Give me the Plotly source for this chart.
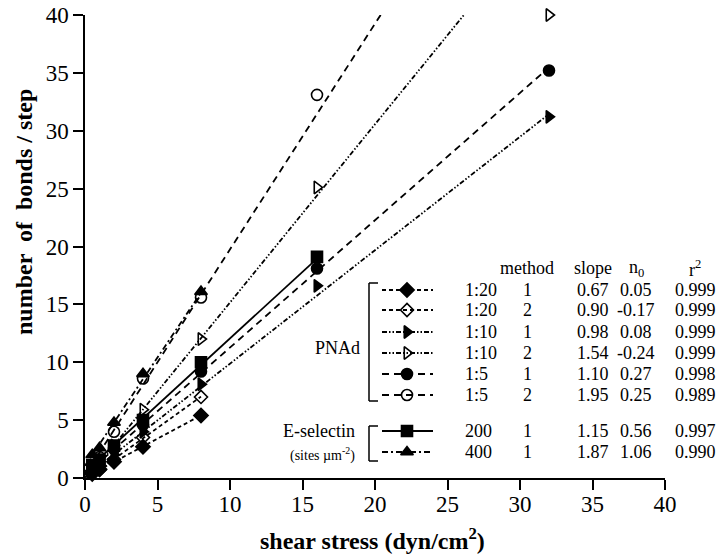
import plotly.graph_objects as go

# ---------------- data ----------------
series_names = ["1:20", "1:20", "1:10", "1:10", "1:5", "1:5", "200", "400"]
methods = ["1", "2", "1", "2", "1", "2", "1", "1"]
slopes = [0.67, 0.90, 0.98, 1.54, 1.10, 1.95, 1.15, 1.87]
n0s = [0.05, -0.17, 0.08, -0.24, 0.27, 0.25, 0.56, 1.06]
r2s = ["0.999", "0.999", "0.999", "0.999", "0.998", "0.989", "0.997", "0.990"]
slope_txt = ["0.67", "0.90", "0.98", "1.54", "1.10", "1.95", "1.15", "1.87"]
n0_txt = ["0.05", "-0.17", "0.08", "-0.24", "0.27", "0.25", "0.56", "1.06"]

x_d1 = [0.5, 1, 2, 4, 8]
y_d1 = [0.45, 0.75, 1.4, 2.7, 5.4]
x_d2 = [0.5, 1, 2, 4, 8]
y_d2 = [0.3, 0.7, 1.6, 3.5, 7.0]
x_t1 = [0.5, 1, 2, 4, 8, 16, 32]
y_t1 = [0.6, 1.1, 2.0, 4.0, 8.1, 16.6, 31.2]
x_t2 = [0.5, 1, 2, 4, 8, 16, 32]
y_t2 = [0.6, 1.2, 2.8, 5.9, 12.0, 25.1, 40.0]
x_c1 = [0.5, 1, 2, 4, 8, 16, 32]
y_c1 = [0.8, 1.4, 2.5, 4.6, 9.2, 18.1, 35.2]
x_c2 = [0.5, 1, 2, 4, 8, 16]
y_c2 = [1.0, 1.8, 4.0, 8.6, 15.6, 33.1]
x_s = [0.5, 1, 2, 4, 8, 16]
y_s = [1.1, 1.6, 2.8, 5.0, 10.0, 19.1]
x_u = [0.5, 1, 2, 4, 8]
y_u = [2.0, 2.6, 4.8, 9.0, 16.1]

xs = [x_d1, x_d2, x_t1, x_t2, x_c1, x_c2, x_s, x_u]
ys = [y_d1, y_d2, y_t1, y_t2, y_c1, y_c2, y_s, y_u]
fit_end = [8, 8, 32, 32, 32, 32, 16, 8]

x_ticks = [0, 5, 10, 15, 20, 25, 30, 35, 40]
y_ticks = [0, 5, 10, 15, 20, 25, 30, 35, 40]

# ---------------- styles ----------------
symbols = ["diamond", "diamond-open", "triangle-right", "triangle-right-open",
           "circle", "circle-open", "square", "triangle-up"]
msizes = [11, 10, 11, 11, 11, 11, 11, 11]
dashes = ["4px,3px", "4px,3px", "5px,2px,1.5px,2px,1.5px,2px", "5px,2px,1.5px,2px,1.5px,2px",
          "7px,5px", "7px,5px", "solid", "6px,3px,2px,3px"]
FONT = "Liberation Serif"

W, H = 720, 557
L, R, T, B = 85, 665, 15, 478   # plot box in page pixels

fig = go.Figure()

for i in range(8):
    fx = [0, fit_end[i]]
    fy = [n0s[i] + slopes[i] * v for v in fx]
    fig.add_trace(go.Scatter(x=fx, y=fy, mode="lines",
                             line=dict(color="black", width=1.8, dash=dashes[i]),
                             showlegend=False, hoverinfo="skip"))
for i in range(8):
    fig.add_trace(go.Scatter(x=xs[i], y=ys[i], mode="markers",
                             marker=dict(symbol=symbols[i], size=msizes[i], color="black",
                                         line=dict(color="black", width=1.6)),
                             showlegend=False, cliponaxis=False))

# ---------------- legend table ----------------
row_y = [290, 310, 332, 353, 374, 395, 431, 452]
samp_x0, samp_x1, samp_xm = 382, 433, 407
col1_x, col_meth, col_slope, col_n0, col_r2 = 463, 527, 593, 636, 695
header_y = 268

for i in range(8):
    fig.add_trace(go.Scatter(x=[samp_x0, samp_x1], y=[row_y[i], row_y[i]], mode="lines",
                             xaxis="x2", yaxis="y2",
                             line=dict(color="black", width=1.8, dash=dashes[i]),
                             showlegend=False, hoverinfo="skip", cliponaxis=False))
    fig.add_trace(go.Scatter(x=[samp_xm], y=[row_y[i]], mode="markers",
                             xaxis="x2", yaxis="y2",
                             marker=dict(symbol=symbols[i], size=msizes[i], color="black",
                                         line=dict(color="black", width=1.6)),
                             showlegend=False, hoverinfo="skip", cliponaxis=False))

def px(x):
    return (x - L) / (R - L)

def py(y):
    return (B - y) / (B - T)

ann = []
def txt(x, y, s, size=18, xanchor="center", bold=False, angle=0):
    ann.append(dict(x=px(x), y=py(y), xref="paper", yref="paper",
                    text=("<b>%s</b>" % s) if bold else s,
                    showarrow=False, xanchor=xanchor, yanchor="middle", textangle=angle,
                    font=dict(family=FONT, size=size, color="black")))

txt(col_meth, header_y, "method")
txt(col_slope, header_y, "slope")
txt(col_n0, header_y, "n<sub>0</sub>")
txt(col_r2, header_y, "r<sup>2</sup>")
for i in range(8):
    txt(col1_x, row_y[i], series_names[i], xanchor="left")
    txt(col_meth, row_y[i], methods[i])
    txt(col_slope, row_y[i], slope_txt[i])
    txt(col_n0, row_y[i], n0_txt[i])
    txt(col_r2, row_y[i], r2s[i])
txt(362, 348, "PNAd", xanchor="right")
txt(357, 431, "E-selectin", xanchor="right")
txt(357, 454, "(sites µm<sup>-2</sup>)", size=14, xanchor="right")

txt(372, 539, "shear stress (dyn/cm<sup>2</sup>)", size=24, bold=True)
txt(24, 212, "number  of  bonds / step", size=24, bold=True, angle=-90)

shapes = []
def seg(x0, y0, x1, y1):
    shapes.append(dict(type="line", xref="paper", yref="paper",
                       x0=px(x0), y0=py(y0), x1=px(x1), y1=py(y1),
                       line=dict(color="black", width=1.5)))
seg(369, 283, 369, 401); seg(369, 283, 378, 283); seg(369, 401, 378, 401)
seg(369, 426, 369, 461); seg(369, 426, 378, 426); seg(369, 461, 378, 461)

axis_common = dict(showgrid=False, zeroline=False, showline=True, linecolor="black",
                   linewidth=1.5, ticks="outside", ticklen=10, tickwidth=1.5, tickcolor="black",
                   automargin=False, ticklabeloverflow="allow",
                   tickfont=dict(family=FONT, size=23, color="black"))

fig.update_layout(
    width=W, height=H,
    margin=dict(l=L, r=W - R, t=T, b=H - B, pad=0),
    paper_bgcolor="white", plot_bgcolor="white",
    xaxis=dict(range=[0, 40], tickvals=x_ticks, ticklabelstandoff=-5, **axis_common),
    yaxis=dict(range=[0, 40], tickvals=y_ticks, **axis_common),
    xaxis2=dict(range=[L, R], overlaying="x", anchor="y2", visible=False, fixedrange=True),
    yaxis2=dict(range=[B, T], overlaying="y", anchor="x2", visible=False, fixedrange=True),
    annotations=ann, shapes=shapes, showlegend=False,
)

fig.write_html("out.html", config={"displayModeBar": False},
               post_script="document.body.style.margin='0px';")
